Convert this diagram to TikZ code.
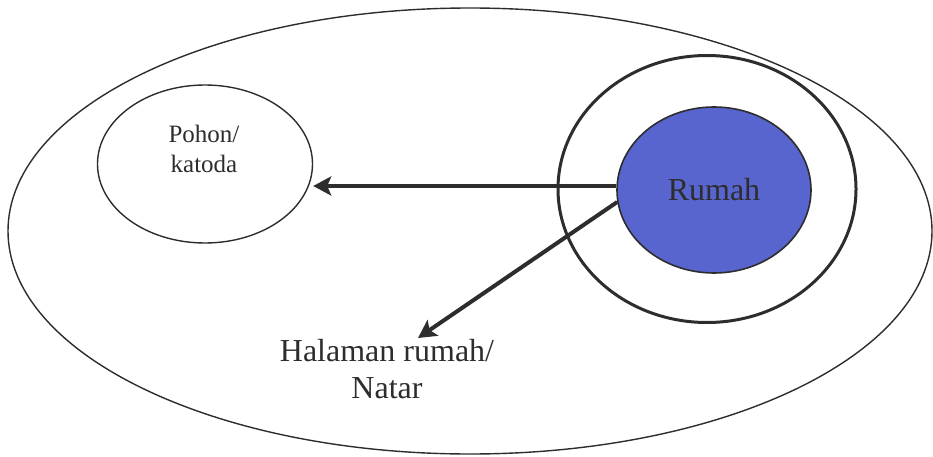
\documentclass[tikz,border=0pt]{standalone}
\usepackage{fontspec}
\setmainfont{Liberation Serif}
\usetikzlibrary{shapes.geometric,arrows.meta}
\definecolor{rumahblue}{RGB}{88,101,206}
\definecolor{ink}{RGB}{45,45,45}
\tikzset{
  oval/.style={ellipse, draw=ink, inner sep=0pt},
  arr/.style={draw=ink, line width=4pt, -{Stealth[length=18pt,width=19pt,inset=4pt]}},
}
\begin{document}
\begin{tikzpicture}[x=1pt,y=-1pt]
\useasboundingbox (0,0) rectangle (933,457);
\node[oval, line width=1.4pt, minimum width=924pt, minimum height=446pt] (world) at (470,231) {};
\node[oval, line width=1.4pt, minimum width=215pt, minimum height=158pt] (pohon) at (205,164) {};
\node[font=\fontsize{25}{30}\selectfont, align=center, text=ink] (pohontext) at (204,149) {Pohon/\\katoda};
\node[oval, line width=3pt, minimum width=298pt, minimum height=267pt] (ring) at (707,189) {};
\node[oval, line width=1.6pt, fill=rumahblue, minimum width=194pt, minimum height=166pt,
      font=\fontsize{32}{38}\selectfont, text=ink] (rumah) at (714,190) {Rumah};
\node[font=\fontsize{32}{37}\selectfont, align=center, text=ink] (halaman) at (387,369) {Halaman rumah/\\Natar};
\coordinate (hs) at ([yshift=4pt]rumah.west);
\coordinate (ds) at ([yshift=-12pt,xshift=1pt]rumah.west);
\coordinate (tip) at (418,338);
\draw[arr] (hs) -- (hs -| pohon.east);
\draw[arr] (ds) -- (tip);
\end{tikzpicture}
\end{document}
